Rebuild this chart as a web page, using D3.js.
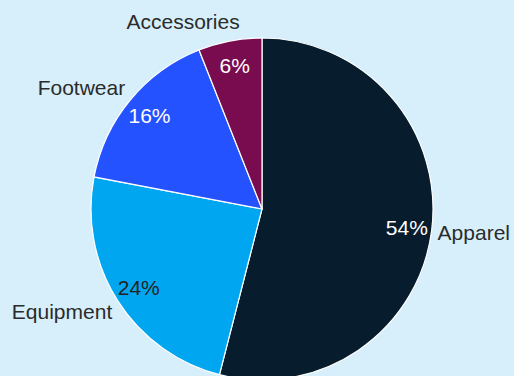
<!DOCTYPE html>
<html>
<head>
<meta charset="utf-8">
<script src="https://cdn.jsdelivr.net/npm/d3@7"></script>
<style>
  html, body { margin: 0; padding: 0; background: #d6effb; }
  svg { display: block; }
</style>
</head>
<body>
<svg id="chart" width="514" height="376"></svg>
<script>
// Sales share by product category
const categories = ["Apparel", "Equipment", "Footwear", "Accessories"];
const shares = [54, 24, 16, 6];
const sliceColors = ["#071d2e", "#00a7f0", "#2552ff", "#790b4f"];
const pctColors = ["#ffffff", "#222222", "#ffffff", "#ffffff"];

const W = 514, H = 376;
const cx = 262, cy = 209, R = 171;
const fontFamily = "'Liberation Sans', Arial, sans-serif";

const svg = d3.select("#chart");
svg.append("rect").attr("width", W).attr("height", H).attr("fill", "#d6effb");

const data = categories.map((c, i) => ({ name: c, value: shares[i], i }));
const pie = d3.pie().value(d => d.value).sort(null);
const arcs = pie(data);
const arc = d3.arc().innerRadius(0).outerRadius(R);

const g = svg.append("g").attr("transform", `translate(${cx},${cy})`);

g.selectAll("path.slice")
  .data(arcs)
  .enter().append("path")
  .attr("class", "slice")
  .attr("d", arc)
  .attr("fill", d => sliceColors[d.data.i])
  .attr("stroke", "#ffffff")
  .attr("stroke-width", 1.2);

// percentage labels inside each slice
const rPct = 146;
g.selectAll("text.pct")
  .data(arcs)
  .enter().append("text")
  .attr("class", "pct")
  .attr("x", d => Math.sin((d.startAngle + d.endAngle) / 2) * rPct)
  .attr("y", d => -Math.cos((d.startAngle + d.endAngle) / 2) * rPct)
  .attr("text-anchor", "middle")
  .attr("dominant-baseline", "central")
  .attr("font-family", fontFamily)
  .attr("font-size", 21)
  .attr("fill", d => pctColors[d.data.i])
  .text(d => d.data.value + "%");

// category names outside the pie
const nameLabels = g.selectAll("text.name")
  .data(arcs)
  .enter().append("text")
  .attr("class", "name")
  .attr("text-anchor", "middle")
  .attr("dominant-baseline", "central")
  .attr("font-family", fontFamily)
  .attr("font-size", 21)
  .attr("fill", "#2b2b2b")
  .text(d => d.data.name);

nameLabels.each(function(d) {
  const a = (d.startAngle + d.endAngle) / 2;
  const ux = Math.sin(a), uy = -Math.cos(a);
  const w = this.getComputedTextLength();
  const px = ux * (R + 4), py = uy * R;
  const shift = Math.sign(ux) * (w / 2 + 2) * Math.min(1, Math.abs(ux) * 4.2);
  d3.select(this)
    .attr("x", px + shift)
    .attr("y", py + uy * 20);
});
</script>
</body>
</html>
